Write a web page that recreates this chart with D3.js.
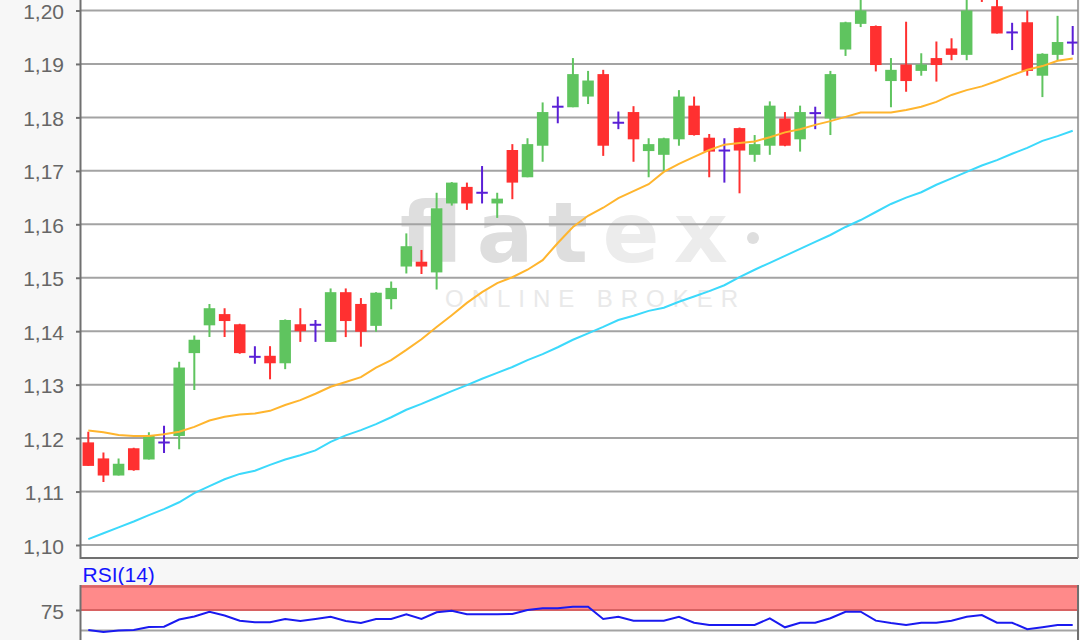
<!DOCTYPE html>
<html><head><meta charset="utf-8">
<script src="https://cdn.jsdelivr.net/npm/d3@7"></script>
<style>html,body{margin:0;padding:0;background:#f7f7f7;} svg{display:block;}</style>
</head><body><svg id="c" width="1080" height="640"></svg>
<script>
// ---- data ----
const open = [
1.1192,1.1162,1.1130,1.1181,1.1160,1.1192,1.1204,1.1359,1.1411,1.1432,
1.1413,1.1352,1.1354,1.1340,1.1413,1.1412,1.1380,1.1473,1.1451,1.1410,
1.1460,1.1521,1.1530,1.1510,1.1639,1.1670,1.1659,1.1639,1.1739,1.1688,
1.1747,1.1820,1.1819,1.1839,1.1881,1.1790,1.1810,1.1737,1.1730,1.1759,
1.1822,1.1762,1.1738,1.1780,1.1730,1.1747,1.1798,1.1759,1.1808,1.1798,
1.1927,1.1975,1.1971,1.1868,1.1899,1.1887,1.1911,1.1929,1.1917,1.2045,
1.2008,1.1959,1.1978,1.1878,1.1917,1.1940];
const high = [
1.1212,1.1173,1.1162,1.1182,1.1211,1.1223,1.1343,1.1392,1.1451,1.1443,
1.1414,1.1372,1.1372,1.1422,1.1443,1.1421,1.1480,1.1480,1.1462,1.1473,
1.1493,1.1583,1.1552,1.1659,1.1679,1.1678,1.1709,1.1659,1.1750,1.1761,
1.1828,1.1839,1.1911,1.1887,1.1889,1.1811,1.1821,1.1761,1.1762,1.1851,
1.1839,1.1769,1.1761,1.1781,1.1767,1.1830,1.1810,1.1822,1.1820,1.1887,
1.1979,1.2025,1.1972,1.1911,1.1979,1.1920,1.1942,1.1948,1.2025,1.2055,
1.2022,1.1977,1.2000,1.1920,1.1990,1.1971];
const low = [
1.1148,1.1118,1.1130,1.1139,1.1160,1.1172,1.1179,1.1290,1.1389,1.1389,
1.1358,1.1339,1.1310,1.1329,1.1380,1.1380,1.1380,1.1389,1.1371,1.1399,
1.1441,1.1508,1.1507,1.1478,1.1635,1.1627,1.1639,1.1612,1.1647,1.1688,
1.1717,1.1789,1.1819,1.1825,1.1728,1.1778,1.1717,1.1688,1.1699,1.1747,
1.1766,1.1688,1.1678,1.1658,1.1717,1.1730,1.1746,1.1736,1.1778,1.1767,
1.1915,1.1969,1.1886,1.1819,1.1848,1.1878,1.1867,1.1907,1.1907,1.2016,
1.1957,1.1926,1.1878,1.1838,1.1907,1.1917];
const close = [
1.1148,1.1130,1.1152,1.1140,1.1204,1.1192,1.1332,1.1384,1.1443,1.1419,
1.1359,1.1352,1.1340,1.1421,1.1400,1.1412,1.1473,1.1419,1.1399,1.1472,
1.1481,1.1559,1.1521,1.1630,1.1678,1.1639,1.1659,1.1648,1.1678,1.1750,
1.1810,1.1820,1.1881,1.1869,1.1747,1.1790,1.1759,1.1750,1.1761,1.1839,
1.1767,1.1736,1.1738,1.1738,1.1750,1.1822,1.1747,1.1810,1.1808,1.1881,
1.1978,1.2000,1.1898,1.1889,1.1868,1.1899,1.1898,1.1917,1.2000,1.2025,
1.1957,1.1959,1.1887,1.1919,1.1941,1.1940];
const maShort = [
1.1214,1.1211,1.1206,1.1204,1.1204,1.1207,1.1212,1.1221,1.1233,1.1240,
1.1244,1.1246,1.1251,1.1262,1.1271,1.1283,1.1296,1.1305,1.1314,1.1332,
1.1346,1.1365,1.1385,1.1408,1.1430,1.1453,1.1473,1.1490,1.1501,1.1515,
1.1533,1.1565,1.1595,1.1616,1.1631,1.1649,1.1662,1.1675,1.1698,1.1713,
1.1726,1.1739,1.1749,1.1752,1.1755,1.1763,1.1772,1.1778,1.1786,1.1793,
1.1801,1.1809,1.1809,1.1809,1.1814,1.1820,1.1829,1.1842,1.1851,1.1858,
1.1868,1.1879,1.1889,1.1896,1.1906,1.1910];
const maLong = [
1.1011,1.1022,1.1033,1.1044,1.1056,1.1067,1.1080,1.1097,1.1110,1.1123,
1.1133,1.1139,1.1150,1.1160,1.1168,1.1177,1.1193,1.1205,1.1215,1.1226,
1.1239,1.1253,1.1264,1.1276,1.1288,1.1299,1.1311,1.1322,1.1333,1.1346,
1.1357,1.1370,1.1384,1.1396,1.1408,1.1421,1.1429,1.1438,1.1444,1.1455,
1.1465,1.1475,1.1486,1.1501,1.1515,1.1528,1.1541,1.1554,1.1567,1.1580,
1.1595,1.1608,1.1623,1.1638,1.1650,1.1660,1.1674,1.1686,1.1698,1.1710,
1.1720,1.1732,1.1743,1.1756,1.1765,1.1775];
const rsi = [
50.6,48.2,50.0,50.6,54.3,54.6,63.4,67.1,72.9,68.3,
62.0,60.0,60.0,64.0,61.6,64.0,66.8,61.6,59.1,64.0,
64.0,69.8,64.0,72.2,74.1,69.8,69.8,69.8,70.1,75.0,
77.1,77.1,79.0,79.0,64.0,66.8,62.0,62.0,62.0,66.8,
59.5,56.7,56.7,56.7,56.7,64.9,53.9,59.5,59.5,64.9,
72.9,72.9,62.0,59.1,56.7,59.5,59.5,62.0,66.8,68.9,
59.5,59.5,51.5,53.9,56.7,56.7];
const yTicks = [1.10,1.11,1.12,1.13,1.14,1.15,1.16,1.17,1.18,1.19,1.20];
const rsiGrid = [50,75];
const rsiLabels = [75];
const rsiTitle = "RSI(14)";
const wmMain = ["flat","ex"];
const wmSub = "ONLINE BROKER";

// ---- layout ----
const FONT = "'Liberation Sans', Arial, sans-serif";
const L = 80.5, R = 1078, mainTop = -20, mainBottom = 558, rsiTop = 585, rsiBottom = 660;
const svg = d3.select("#c");
const n = open.length;
const x = d3.scalePoint().domain(d3.range(n)).range([88.3, 1072.7]);
const y = d3.scaleLinear().domain([1.10, 1.20]).range([545, 10.5]);
const yr = d3.scaleLinear().domain([50, 75]).range([630.5, 610]);
const loc = d3.formatLocale({decimal: ",", thousands: ".", grouping: [3], currency: ["", ""]});
const fmt = loc.format(".2f");

svg.append("rect").attr("width", 1080).attr("height", 640).attr("fill", "#f7f7f7");

// main panel
svg.append("rect").attr("x", L).attr("y", mainTop).attr("width", R - L).attr("height", mainBottom - mainTop).attr("fill", "#fff");
svg.append("defs").append("clipPath").attr("id", "clipMain")
  .append("rect").attr("x", L + 1).attr("y", mainTop).attr("width", R - L - 1).attr("height", mainBottom - mainTop - 1);

// watermark
const wm = svg.append("g");
const wt = wm.append("text").attr("x", 400).attr("y", 262)
  .attr("font-family", "'DejaVu Sans', sans-serif").attr("font-weight", "bold").attr("font-size", 84)
  .attr("textLength", 328).attr("lengthAdjust", "spacing");
wt.append("tspan").attr("fill", "#dedede").text(wmMain[0]);
wt.append("tspan").attr("fill", "#ececec").text(wmMain[1]);
wm.append("circle").attr("cx", 753).attr("cy", 238).attr("r", 6).attr("fill", "#dedede");
wm.append("text").attr("x", 445).attr("y", 307).attr("font-family", FONT).attr("font-size", 24)
  .attr("fill", "#e9e9e9").attr("textLength", 293).attr("lengthAdjust", "spacing").text(wmSub);

// grid
svg.append("g").selectAll("line").data(yTicks).join("line")
  .attr("x1", L).attr("x2", R).attr("y1", d => y(d)).attr("y2", d => y(d))
  .attr("stroke", "#a3a3a3").attr("stroke-width", 2);

// candles
const cg = svg.append("g").attr("clip-path", "url(#clipMain)");
const GREEN = "#5fc45f", RED = "#ff3030", DOJI = "#5a1fd6";
const bw = 11.5;
const idx = d3.range(n);
const colorOf = i => close[i] > open[i] ? GREEN : (close[i] < open[i] ? RED : DOJI);
cg.selectAll("line.wick").data(idx).join("line").attr("class", "wick")
  .attr("x1", i => x(i)).attr("x2", i => x(i))
  .attr("y1", i => y(high[i])).attr("y2", i => y(low[i]))
  .attr("stroke", colorOf).attr("stroke-width", 2);
cg.selectAll("rect.body").data(idx.filter(i => close[i] !== open[i])).join("rect").attr("class", "body")
  .attr("x", i => x(i) - bw / 2).attr("width", bw)
  .attr("y", i => y(Math.max(open[i], close[i])))
  .attr("height", i => Math.max(1, Math.abs(y(open[i]) - y(close[i]))))
  .attr("fill", colorOf);
cg.selectAll("line.doji").data(idx.filter(i => close[i] === open[i])).join("line").attr("class", "doji")
  .attr("x1", i => x(i) - bw / 2).attr("x2", i => x(i) + bw / 2)
  .attr("y1", i => y(open[i])).attr("y2", i => y(open[i]))
  .attr("stroke", DOJI).attr("stroke-width", 2);

// moving averages
const lineGen = arr => d3.line().x((d, i) => x(i)).y(d => y(d))(arr);
cg.append("path").attr("d", lineGen(maLong)).attr("fill", "none").attr("stroke", "#3cd9fb").attr("stroke-width", 2);
cg.append("path").attr("d", lineGen(maShort)).attr("fill", "none").attr("stroke", "#ffb52e").attr("stroke-width", 2);

// main frame & axis
svg.append("line").attr("x1", L).attr("x2", R).attr("y1", mainBottom).attr("y2", mainBottom).attr("stroke", "#707070").attr("stroke-width", 2);
svg.append("line").attr("x1", R).attr("x2", R).attr("y1", mainTop).attr("y2", mainBottom).attr("stroke", "#8a8a8a").attr("stroke-width", 1.5);
const ax = svg.append("g").attr("transform", `translate(${L},0)`)
  .call(d3.axisLeft(y).tickValues(yTicks).tickFormat(fmt).tickSize(4.5).tickPadding(12));
ax.select(".domain").remove();
ax.selectAll(".tick line").attr("stroke", "#707070").attr("stroke-width", 2);
ax.selectAll(".tick text").attr("font-family", FONT).attr("font-size", 21).attr("fill", "#666").attr("dy", 8);
svg.append("line").attr("x1", L).attr("x2", L).attr("y1", mainTop).attr("y2", mainBottom + 1).attr("stroke", "#707070").attr("stroke-width", 2);

// RSI title
svg.append("text").attr("x", 82.5).attr("y", 581.5).attr("font-family", FONT).attr("font-size", 21)
  .attr("fill", "#1414ff").text(rsiTitle);

// RSI panel
svg.append("rect").attr("x", L).attr("y", rsiTop).attr("width", R - L).attr("height", rsiBottom - rsiTop).attr("fill", "#fff");
svg.append("rect").attr("x", L).attr("y", rsiTop).attr("width", R - L).attr("height", yr(75) - rsiTop).attr("fill", "#ff8a8a");
svg.append("line").attr("x1", L).attr("x2", R).attr("y1", rsiTop + 1.5).attr("y2", rsiTop + 1.5).attr("stroke", "#d86262").attr("stroke-width", 2.5);
svg.append("g").selectAll("line").data(rsiGrid).join("line")
  .attr("x1", L).attr("x2", R).attr("y1", d => yr(d)).attr("y2", d => yr(d))
  .attr("stroke", d => d === 75 ? "#d86262" : "#a3a3a3").attr("stroke-width", 2);
svg.append("path").attr("d", d3.line().x((d, i) => x(i)).y(d => yr(d))(rsi))
  .attr("fill", "none").attr("stroke", "#1a1af0").attr("stroke-width", 2);
svg.append("line").attr("x1", R).attr("x2", R).attr("y1", rsiTop).attr("y2", rsiBottom).attr("stroke", "#707070").attr("stroke-width", 2);
const axr = svg.append("g").attr("transform", `translate(${L},0)`)
  .call(d3.axisLeft(yr).tickValues(rsiLabels).tickFormat(d3.format("d")).tickSize(4.5).tickPadding(12));
axr.select(".domain").remove();
axr.selectAll(".tick line").attr("stroke", "#707070").attr("stroke-width", 2);
axr.selectAll(".tick text").attr("font-family", FONT).attr("font-size", 21).attr("fill", "#666").attr("dy", 8);
svg.append("line").attr("x1", L).attr("x2", L).attr("y1", rsiTop).attr("y2", rsiBottom).attr("stroke", "#707070").attr("stroke-width", 2);
</script></body></html>
